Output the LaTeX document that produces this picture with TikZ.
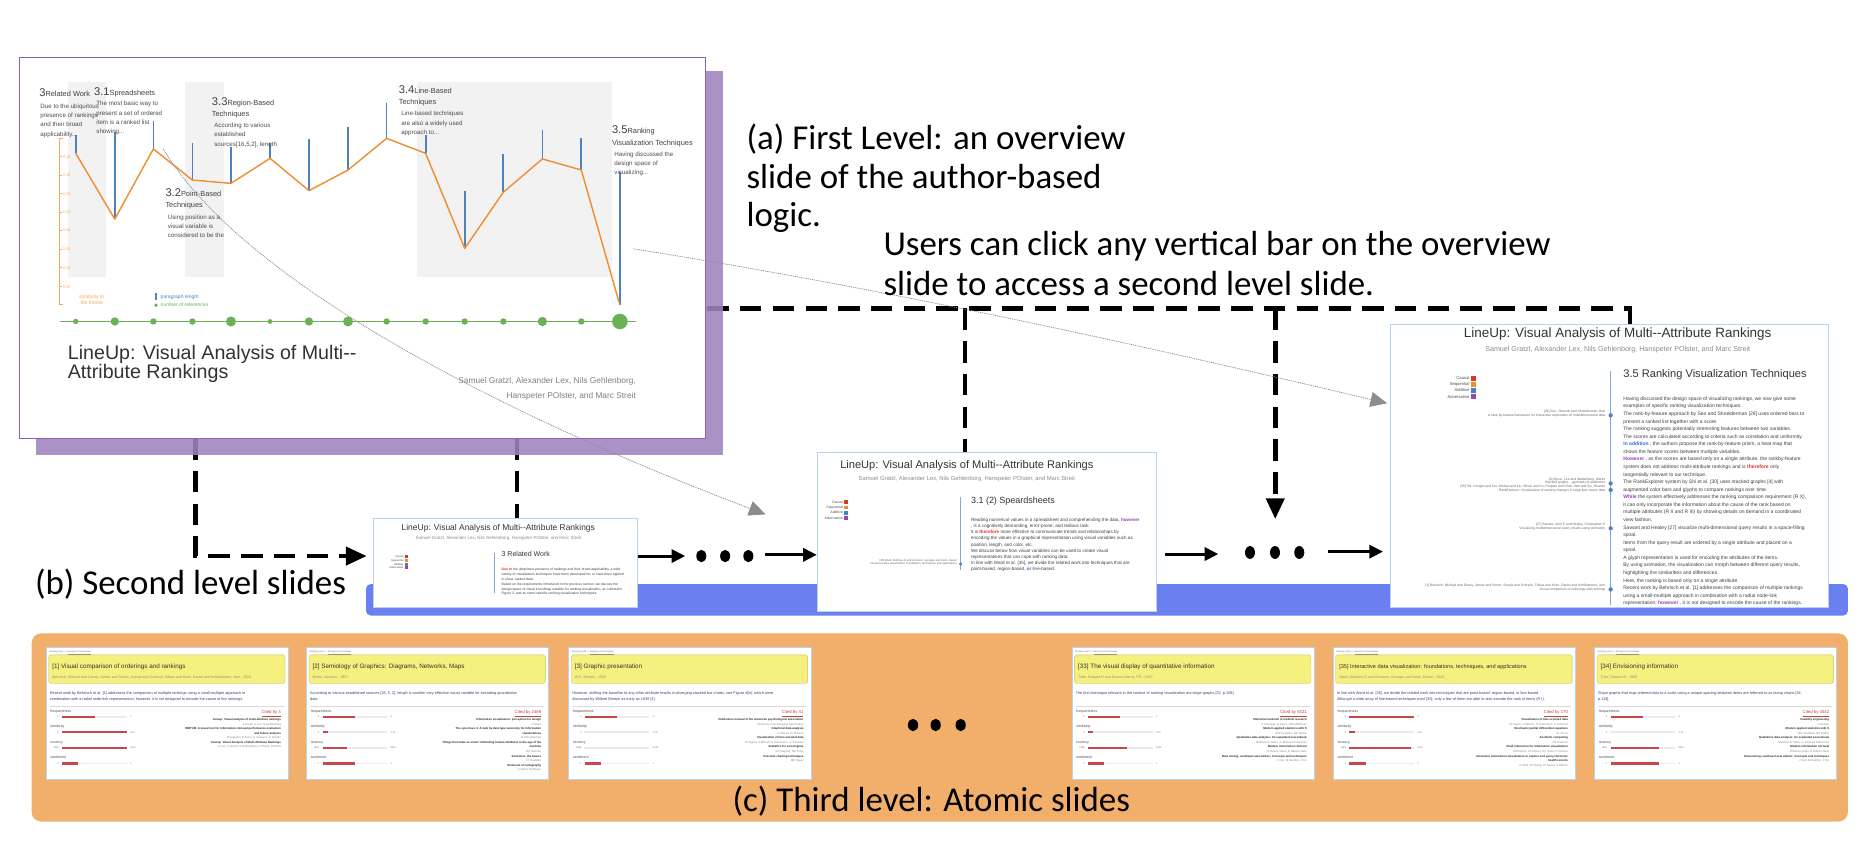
\documentclass[tikz,border=0pt]{standalone}
\usepackage{fontspec}
\setmainfont{Carlito}
\newfontfamily\hv{Liberation Sans}
\usetikzlibrary{arrows.meta}
\definecolor{pshadow}{HTML}{9F83BF}
\definecolor{pborder}{HTML}{8A63B8}
\definecolor{gband}{HTML}{F2F2F2}
\definecolor{axo}{HTML}{F5A95A}
\definecolor{lino}{HTML}{EF8E33}
\definecolor{barb}{HTML}{4F81BD}
\definecolor{grn}{HTML}{6BB155}
\definecolor{bband}{HTML}{6A7FF0}
\definecolor{oband}{HTML}{F1AF6B}
\definecolor{sborder}{HTML}{B7D3EE}
\definecolor{ylw}{HTML}{F6F07E}
\definecolor{cRed}{HTML}{D9372B}
\definecolor{cOra}{HTML}{F08C28}
\definecolor{cBlu}{HTML}{4A7EC4}
\definecolor{cPur}{HTML}{8E4AB0}
\definecolor{kwred}{HTML}{E0302A}
\definecolor{kwpur}{HTML}{9B3FB5}
\definecolor{kwblu}{HTML}{2F6FD0}
\definecolor{bodyblue}{HTML}{3A3F78}
\definecolor{citered}{HTML}{B5473F}
\definecolor{barred}{HTML}{C9464A}
\definecolor{linkgray}{HTML}{8C8C8C}
\tikzset{
  txt/.style={anchor=base west, inner sep=0pt, outer sep=0pt},
  txr/.style={anchor=base east, inner sep=0pt, outer sep=0pt},
  txc/.style={anchor=base, inner sep=0pt, outer sep=0pt},
  fs/.style={font=\hv\fontsize{#1}{#1}\selectfont},
  ann/.style={txt, font=\fontsize{29.3}{34}\selectfont},
  dashconn/.style={line width=3.8pt, dash pattern=on 18pt off 9.5pt, black},
  bigtip/.style={-{Triangle[length=17.5pt,width=15pt]}},
  solidarrow/.style={line width=2.5pt, -{Triangle[length=11.5pt,width=11pt]}},
  bar/.style={barb, line width=1.4pt},
  dotcurve/.style={linkgray, line width=0.6pt, dash pattern=on 0.9pt off 0.7pt, -{Triangle[length=14pt,width=12.5pt]}},
  slide2/.style={draw=sborder, line width=0.8pt, fill=white, anchor=north west, inner sep=0pt},
}
\newcommand\ddd{.\kern0pt.\kern0pt.}
\newcommand\tlines[6]{\foreach \tline [count=\i from 0] in {#6} {\node[#5] (#1-\i) at (#2,{#3+\i*#4}) {\tline};}}
\newcommand\sechead[2]{{\fontsize{9.4}{9.4}\selectfont #1}{\fontsize{6.2}{6.2}\selectfont #2}}
\newcommand\refT{\bfseries\color{black!85}}
\newcommand\refA{\color{black!45}}
\newcommand\kw[2]{\textcolor{#1}{\textbf{#2}}}
\newcommand\legendbox[6]{\foreach \lab/\col [count=\j from 0] in {Causal/cRed,Sequential/cOra,Additive/cBlu,Adversative/cPur} {%
  \fill[\col] ({#2-#5},{#3+\j*#4-#5/2}) rectangle (#2,{#3+\j*#4+#5/2});
  \node[anchor=east, inner sep=0pt, fs=#6, text=black!70] (#1-\j) at ({#2-#5-0.8},{#3+\j*#4}) {\lab};}}
\newcommand\atombars[5]{\foreach \lab/\f/\lo/\hi [count=\k from 0] in {frequentness/#2/0/2,similarity/#3/0/0.19,recency/#4/1995/2015,sentiment/#5/-1/1} {%
  \node[txt, fs=3, text=black!70] (#1-l\k) at (4,{54.5+\k*13.1}) {\lab};
  \node[txr, fs=2, text=black!55] (#1-lo\k) at (11,{59.2+\k*13.1}) {\lo};
  \node[txt, fs=2, text=black!55] (#1-hi\k) at (71,{59.2+\k*13.1}) {\hi};
  \fill[black!8] (14,{57.6+\k*13.1}) rectangle (68,{59+\k*13.1});
  \fill[barred] (14,{57.4+\k*13.1}) rectangle ({14+54*\f},{59.2+\k*13.1});}}
\newcommand\atomic[8]{\begin{scope}[shift={(#1,543.6)}]
  \node[slide2, minimum width=203.5pt, minimum height=110.9pt] (#2) at (0,0) {};
  \node[txt, fs=1.9, text=black!55] (#2-bc) at (3,4.3) {Existing works >{}> \underline{Background knowledge}};
  \filldraw[fill=ylw, draw=ylw!80!black, line width=0.3pt, rounded corners=1.5pt] (2.5,6.4) rectangle (201,30.4);
  \node[txt, fs=5.3, text=black!80] (#2-t) at (5.5,17.8) {#3};
  \node[txt, fs=3, text=black!45] (#2-a) at (5.5,26.6) {#4};
  \tlines{#2-b}{3.5}{39.8}{5}{txt, fs=3.2, text=bodyblue}{#5}
  \draw[black!15, line width=1pt] (3.5,50) -- (200,50);
  \atombars{#2}#7
  \node[txr, fs=3.6, text=citered] (#2-c) at (197.5,55.4) {\underline{Cited by #6}};
  \tlines{#2-r}{197.5}{61.5}{3.85}{txr, fs=2.4}{#8}
\end{scope}}
\begin{document}
\begin{tikzpicture}[x=1pt,y=-1pt]
\useasboundingbox (0,0) rectangle (1568,708);
\fill[white] (0,0) rectangle (1568,708);
% bands
\fill[oband, rounded corners=8pt] (26.6,532) rectangle (1552,690);
\fill[bband, rounded corners=4pt] (307.4,490.5) rectangle (1552,517);

% ---------- second level slides ----------
\node[slide2, minimum width=221.7pt, minimum height=74.7pt] (S2a) at (313,435.3) {};
\node[txc, fs=7.1, text=black!80] (S2a-t) at (418.5,445.9) {LineUp: Visual Analysis of Multi-{}-Attribute Rankings};
\node[txc, fs=3.75, text=black!45] (S2a-au) at (418.5,453.5) {Samuel Gratzl, Alexander Lex, Nils Gehlenborg, Hanspeter POlster, and Marc Streit};
\legendbox{S2a-lg}{342.4}{467.5}{3.15}{2.6}{2.2}
\draw[barb!70, line width=0.8pt] (414.9,464.2) -- (414.9,498.3);
\node[txt, fs=5.9, text=black!80] (S2a-h) at (421.3,467.6) {3 Related Work};
\tlines{S2a-b}{421.3}{479.2}{4.1}{txt, fs=2.85, text=black!75}{{\kw{kwred}{Due to} the ubiquitous presence of rankings and their broad applicability, a wide},{variety of visualization techniques have been developed for, or have been applied},{to show, ranked data.},{Based on the requirements introduced in the previous section, we discuss the},{design space of visual encodings suitable for ranking visualization, as outlined in},{Figure 2, and as some specific ranking visualization techniques.}}

\node[slide2, minimum width=285pt, minimum height=133pt] (S2b) at (686,380) {};
\node[txc, fs=9.3, text=black!80] (S2b-t) at (812,393.5) {LineUp: Visual Analysis of Multi-{}-Attribute Rankings};
\node[txc, fs=4.9, text=black!45] (S2b-au) at (812,403.7) {Samuel Gratzl, Alexander Lex, Nils Gehlenborg, Hanspeter POlster, and Marc Streit};
\legendbox{S2b-lg}{712}{421.9}{4.37}{3.2}{2.9}
\draw[barb!70, line width=0.9pt] (806.8,417.7) -- (806.8,478.7);
\fill[barb] (806.8,473.7) circle[radius=1.5pt];
\tlines{S2b-r}{803.5}{471.4}{2.5}{txr, fs=2.3, text=black!60}{{[35] Ward, Matthew O and Grinstein, Georges and Keim, Daniel},{Interactive data visualization: foundations, techniques, and applications}}
\node[txt, fs=7.55, text=black!80] (S2b-h) at (815.5,422.7) {3.1 (2) Speardsheets};
\tlines{S2b-b}{815.5}{437.9}{5.17}{txt, fs=3.85, text=black!75}{{Reading numerical values in a spreadsheet and comprehending the data, \kw{kwpur}{however}},{, is a cognitively demanding, error-prone, and tedious task.},{It is \kw{kwred}{therefore} more effective to communicate trends and relationships by},{encoding the values in a graphical representation using visual variables such as},{position, length, and color, etc.},{We discuss below how visual variables can be used to create visual},{representations that can cope with ranking data.},{In line with Ward et al. [35], we divide the related work into techniques that are},{point-based, region-based, \kw{kwblu}{or} line-based.}}

\node[slide2, minimum width=367.6pt, minimum height=237.1pt] (S2c) at (1167.4,272.4) {};
\node[txc, fs=11.3, text=black!80] (S2c-t) at (1358.6,283.2) {LineUp: Visual Analysis of Multi-{}-Attribute Rankings};
\node[txc, fs=6, text=black!45] (S2c-au) at (1358.6,295.5) {Samuel Gratzl, Alexander Lex, Nils Gehlenborg, Hanspeter POlster, and Marc Streit};
\legendbox{S2c-lg}{1239.3}{317.5}{5.23}{4.2}{3.5}
\draw[barb!70, line width=1pt] (1352.7,312) -- (1352.7,508);
\foreach \y in {348.8,406,411.5,443.7,495} {\fill[barb] (1352.7,\y) circle[radius=1.8pt];}
\tlines{S2c-r1}{1348.2}{346.4}{3}{txr, fs=2.8, text=black!60}{{[29] Seo, Jinwook and Shneiderman, Ben},{A rank-by-feature framework for interactive exploration of multidimensional data}}
\tlines{S2c-r2}{1348.2}{403.4}{3}{txr, fs=2.8, text=black!60}{{[4] Byron, Lee and Wattenberg, Martin},{Stacked graphs -- geometry \& aesthetics}}
\tlines{S2c-r3}{1348.2}{409.4}{3}{txr, fs=2.8, text=black!60}{{[30] Shi, Conglei and Cui, Weiwei and Liu, Shixia and Xu, Panpan and Chen, Wei and Qu, Huamin},{RankExplorer: Visualization of ranking changes in large time series data}}
\tlines{S2c-r4}{1348.2}{441.6}{3}{txr, fs=2.8, text=black!60}{{[27] Sawant, Amit P and Healey, Christopher G},{Visualizing multidimensional query results using animation}}
\tlines{S2c-r5}{1348.2}{492.8}{3}{txr, fs=2.8, text=black!60}{{[1] Behrisch, Michael and Davey, James and Simon, Svenja and Schreck, Tobias and Keim, Daniel and Kohlhammer, Jorn},{Visual comparison of orderings and rankings}}
\node[txt, fs=9.3, text=black!80] (S2c-h) at (1363.4,317.4) {3.5 Ranking Visualization Techniques};
\tlines{S2c-b}{1363.4}{336.2}{6.36}{txt, fs=4.2, text=black!75}{{Having discussed the design space of visualizing rankings, we now give some},{examples of specific ranking visualization techniques.},{The rank-by-feature approach by Seo and Shneiderman [29] uses ordered bars to},{present a ranked list together with a score.},{The ranking suggests potentially interesting features between two variables.},{The scores are calculated according to criteria such as correlation and uniformity.},{\kw{kwblu}{In addition} , the authors propose the rank-by-feature prism, a heat map that},{shows the feature scores between multiple variables.},{\kw{kwpur}{However} , as the scores are based only on a single attribute, the rankby-feature},{system does not address multi-attribute rankings and is \kw{kwred}{therefore} only},{tangentially relevant to our technique.},{The RankExplorer system by Shi et al. [30] uses stacked graphs [4] with},{augmented color bars and glyphs to compare rankings over time.},{\kw{kwpur}{While} the system effectively addresses the ranking comparison requirement (R X),},{it can only incorporate the information about the cause of the rank based on},{multiple attributes (R II and R III) by showing details on demand in a coordinated},{view fashion.},{Sawant and Healey [27] visualize multi-dimensional query results in a space-filling},{spiral.},{Items from the query result are ordered by a single attribute and placed on a},{spiral.},{A glyph representation is used for encoding the attributes of the items.},{By using animation, the visualization can morph between different query results,},{highlighting the similarities and differences.},{Here, the ranking is based only on a single attribute.},{Recent work by Behrisch et al. [1] addresses the comparison of multiple rankings},{using a small-multiple approach in combination with a radial node-link},{representation; \kw{kwpur}{however} , it is not designed to encode the cause of the rankings.}}

% ---------- dashed connectors ----------
\coordinate (dA0) at (164,368);
\coordinate (dA1) at (164,467);
\coordinate (dAe) at (308,467);
\draw[dashconn, bigtip] (dA0) -- (dA1) -- (dAe);
\coordinate (dB0) at (434,368);
\draw[dashconn] (dB0) -- (dB0 |- S2a.north);
\coordinate (dC0) at (594,259);
\coordinate (dC1) at (1369,259);
\draw[dashconn] (dC0) -- (dC1) -- (dC1 |- S2c.north);
\coordinate (dD0) at (810.5,259);
\draw[dashconn] (dD0) -- (dD0 |- S2b.north);
\coordinate (dE0) at (1071,259);
\coordinate (dEe) at (1071,436);
\draw[dashconn, bigtip] (dE0) -- (dEe);

% ---------- first level slide ----------
\fill[pshadow, fill opacity=0.88] (30,60) rectangle (607,382);
\node[draw=pborder, line width=0.9pt, fill=white, anchor=north west, minimum width=576pt, minimum height=320pt, inner sep=0pt] (L1) at (16,48) {};
\fill[gband] (57,69) rectangle (89,233);
\fill[gband] (155,69) rectangle (188,233);
\fill[gband] (350,69) rectangle (514,233);
\draw[axo, line width=0.6pt] (53,116) -- (50,116) -- (50,256) -- (53,256);
\foreach \v/\y [count=\i] in {0.16/131.6,0.18/147,0.20/162.7,0.22/178,0.24/193.7,0.26/209,0.28/224.8,0.30/240.8} {%
  \draw[axo, line width=0.4pt] (50,\y) -- (52,\y);
  \node[anchor=west, inner sep=0pt, fs=3.3, text=axo] (tk\i) at (52.6,\y) {\v};}
\draw[grn, line width=1.3pt] (50,270) -- (534,270);
\foreach \x/\t/\o/\r in {63.6/113.4/128.8/2.3,96.4/110.6/184/3.5,128.8/101.6/125.1/2.7,161.6/119.8/151.2/2.7,194/123.7/154/4.2,226.8/120.4/133/2,259.5/117/160.1/3.5,292.3/107/142.8/4.2,324.7/86.2/116.2/2.7,357.5/113.4/128.8/2.7,390.3/160.4/208.6/2.7,422.7/129.6/161.5/2.7,455.5/109.2/133.5/3.9,488.2/115.9/142.8/2.7,520.6/144.2/256.2/6.5} {%
  \draw[bar] (\x,\t) -- (\x,\o);
  \fill[grn] (\x,270) circle[radius=\r pt];}
\draw[lino, line width=1.2pt, line join=round] plot coordinates {(63.6,128.8) (96.4,184) (128.8,125.1) (161.6,151.2) (194,154) (226.8,133) (259.5,160.1) (292.3,142.8) (324.7,116.2) (357.5,128.8) (390.3,208.6) (422.7,161.5) (455.5,133.5) (488.2,142.8) (520.6,256.2)};
% legend of chart
\tlines{lgs}{77}{250.5}{5}{txc, fs=4.2, text=axo}{{similarity to},{the theme}}
\draw[barb, line width=1.3pt] (131,246) -- (131,252);
\node[txt, fs=4.2, text=barb] (lgp) at (135,250.6) {paragraph length};
\fill[grn] (131,256.4) circle[radius=1.6pt];
\node[txt, fs=4.2, text=grn] (lgn) at (135,257.8) {number of references};
% section labels
\node[txt, font=\hv, text=black!75] (h3) at (33,81) {\sechead{3}{Related Work}};
\tlines{b3}{34}{91}{7.8}{txt, fs=5.2, text=black!70}{{Due to the ubiquitous},{presence of rankings},{and their broad},{applicability\ddd}}
\node[txt, font=\hv, text=black!75] (h31) at (79,79.8) {\sechead{3.1}{Spreadsheets}};
\tlines{b31}{81}{89}{7.8}{txt, fs=5.2, text=black!70}{{The most basic way to},{present a set of ordered},{item is a ranked list},{showing\ddd}}
\node[txt, font=\hv, text=black!75] (h33) at (178,88.5) {\sechead{3.3}{Region-Based}};
\node[txt, fs=6.2, text=black!75] (h33b) at (178,97.6) {Techniques};
\tlines{b33}{180}{107.3}{7.7}{txt, fs=5.2, text=black!70}{{According to various},{established},{sources[16,5,2], length}}
\node[txt, font=\hv, text=black!75] (h32) at (139,165.2) {\sechead{3.2}{Point-Based}};
\node[txt, fs=6.2, text=black!75] (h32b) at (139,174.4) {Techniques};
\tlines{b32}{141}{184}{7.7}{txt, fs=5.2, text=black!70}{{Using position as a},{visual variable is},{considered to be the}}
\node[txt, font=\hv, text=black!75] (h34) at (335,78.4) {\sechead{3.4}{Line-Based}};
\node[txt, fs=6.2, text=black!75] (h34b) at (335,87.8) {Techniques};
\tlines{b34}{337}{97.2}{7.8}{txt, fs=5.2, text=black!70}{{Line-based techniques},{are also a widely used},{approach to\ddd}}
\node[txt, font=\hv, text=black!75] (h35) at (514,112.5) {\sechead{3.5}{Ranking}};
\node[txt, fs=6.2, text=black!75] (h35b) at (514,122.2) {Visualization Techniques};
\tlines{b35}{516}{131.5}{7.7}{txt, fs=5.2, text=black!70}{{Having discussed the},{design space of},{visualizing\ddd}}
% title and authors
\tlines{L1t}{57}{301.8}{16}{txt, fs=16.5, text=black!80}{{LineUp: Visual Analysis of Multi-{}-},{Attribute Rankings}}
\tlines{L1a}{534}{322.5}{12.1}{txr, fs=7, text=black!50}{{Samuel Gratzl, Alexander Lex, Nils Gehlenborg,},{Hanspeter POlster, and Marc Streit}}

% ---------- third level slides ----------
\atomic{38.4}{A1}{[1] Visual comparison of orderings and rankings}{Behrisch, Michael and Davey, James and Simon, Svenja and Schreck, Tobias and Keim, Daniel and Kohlhammer, Jorn - 2013}{{Recent work by Behrisch et al. [1] addresses the comparison of multiple rankings using a small-multiple approach in},{combination with a radial node-link representation; however, it is not designed to encode the cause of the rankings.}}{3}{{0.5}{1}{1}{0.25}}{{\refT Lineup: Visual analysis of multi-attribute rankings},{\refA S Gratzl, A Lex, N Gehlenborg},{\refT WRTUB: A visual tool for information retrieval performance evaluation},{\refT and failure analysis},{\refA M Angelini, N Ferro, G Santucci, G Silvello},{\refT LineUp: Visual Analysis of Multi-Attribute Rankings},{\refA A Lex, S Gratzl, N Gehlenborg, H Pfister, M Streit}}
\atomic{257}{A2}{[2] Semiology of Graphics: Diagrams, Networks, Maps}{Bertin, Jacques - 1967}{{According to various established sources [16, 5, 2], length is another very effective visual variable for encoding quantitative},{data.}}{2489}{{0.5}{0.08}{0.38}{0.5}}{{\refT Information visualization: perception for design},{\refA C Ware},{\refT The eyes have it: A task by data type taxonomy for information},{\refT visualizations},{\refA B Shneiderman},{\refT Things that make us smart: Defending human attributes in the age of the},{\refT machine},{\refA DA Norman},{\refT Semiotics: the basics},{\refA D Chandler},{\refT Elements of cartography},{\refA A Arthur Robinson}}
\atomic{477.3}{A3}{[3] Graphic presentation}{W.C. Brinton - 1939}{{However, shifting the baseline to any other attribute results in diverging stacked bar charts, see Figure 4(b), which were},{discussed by Willard Brinton as early as 1939 [3].}}{41}{{0.5}{0}{0}{0.25}}{{\refT Publication manual of the American psychological association},{\refA American Psychological Association},{\refT Graphical data analysis},{\refA H Wainer, D Thissen},{\refT Visualization of time-oriented data},{\refA W Aigner, S Miksch, H Schumann, C Tominski},{\refT Statistics for sociologists},{\refA MJ Hagood, DO Price},{\refT Practical charting techniques},{\refA ME Spear}}
\atomic{900}{A4}{[33] The visual display of quantitative information}{Tufte, Edward R and Graves-Morris, PR - 1983}{{The first technique relevant in the context of ranking visualization are slope graphs [33, p.158].}}{8321}{{0.5}{0.08}{0.6}{0.25}}{{\refT Statistical methods in medical research},{\refA P Armitage, G Berry, JNS Matthews},{\refT Modern applied statistics with S},{\refA WN Venables, BD Ripley},{\refT Qualitative data analysis: An expanded sourcebook},{\refA Matthew B. Miles, A. Michael Huberman},{\refT Modern information retrieval},{\refA R Baeza-Yates, B Ribeiro-Neto},{\refT Data mining, southeast asia edition: Concepts and techniques},{\refA J Han, M Kamber, J Pei}}
\atomic{1119.3}{A5}{{\fontsize{4.7}{4.7}\selectfont [35] Interactive data visualization: foundations, techniques, and applications}}{Ward, Matthew O and Grinstein, Georges and Keim, Daniel - 2010}{{In line with Ward et al. [35], we divide the related work into techniques that are point-based, region-based, or line-based.},{Although a wide array of line-based techniques exist [35], only a few of them are able to also encode the rank of items (R I).}}{170}{{1}{0.08}{0.95}{0.25}}{{\refT Visualization of time-oriented data},{\refA W Aigner, S Miksch, H Schumann, C Tominski},{\refT Stochastic partial differential equations},{\refA PL Chow},{\refT Aesthetic computing},{\refA PA Fishwick},{\refT Fluid interaction for information visualization},{\refA N Elmqvist, AV Moere, HC Jetter, D Cernea},{\refT Interactive information visualization to explore and query electronic},{\refT health records},{\refA A Rind, TD Wang, W Aigner, S Miksch}}
\atomic{1338.7}{A6}{[34] Envisioning information}{Tufte, Edward R - 1990}{{Slope graphs that map ordered data to a scale using a unique spacing between items are referred to as bump charts [34,},{p.118].}}{4542}{{0.5}{0}{0.75}{0.75}}{{\refT Usability engineering},{\refA J Nielsen},{\refT Modern applied statistics with S},{\refA WN Venables, BD Ripley},{\refT Qualitative data analysis: An expanded sourcebook},{\refA Matthew B. Miles, A. Michael Huberman},{\refT Modern information retrieval},{\refA R Baeza-Yates, B Ribeiro-Neto},{\refT Data mining, southeast asia edition: Concepts and techniques},{\refA J Han, M Kamber, J Pei}}

% ---------- solid arrows and ellipses ----------
\coordinate (a1s) at (535.5,467);
\coordinate (a1e) at (575.5,467);
\draw[solidarrow] (a1s) -- (a1e);
\foreach \x in {589,609,628.5} {\fill (\x,467) ellipse[x radius=4.2pt, y radius=5.2pt];}
\coordinate (a2s) at (642.5,466);
\draw[solidarrow] (a2s) -- (a2s -| S2b.west);
\coordinate (a3s) at (978.4,465.3);
\coordinate (a3e) at (1023.2,465.3);
\draw[solidarrow] (a3s) -- (a3e);
\foreach \x in {1049.8,1070.8,1091.2} {\fill (\x,464) ellipse[x radius=4.2pt, y radius=5.4pt];}
\coordinate (a4s) at (1115.6,463.3);
\coordinate (a4e) at (1161.5,463.3);
\draw[solidarrow] (a4s) -- (a4e);
\foreach \x in {766.8,785.8,806.8} {\fill (\x,608.9) ellipse[x radius=4.3pt, y radius=5.2pt];}

% ---------- gray dotted links ----------
\coordinate (g1s) at (137,125);
\coordinate (g1e) at (643,432);
\draw[dotcurve] (g1s) .. controls (200,230) and (400,340) .. (g1e);
\coordinate (g2s) at (532,209);
\coordinate (g2e) at (1165,338.7);
\draw[dotcurve] (g2s) .. controls (760,245) and (980,295) .. (g2e);

% ---------- annotations ----------
\tlines{annA}{627}{125.5}{32.5}{ann}{{(a) First Level: an overview},{slide of the author-based},{logic.}}
\tlines{annU}{742}{215}{33.5}{ann}{{Users can click any vertical bar on the overview},{slide to access a second level slide.}}
\node[ann] (annB) at (29.4,499) {(b) Second level slides};
\node[ann] (annC) at (615.3,681.7) {(c) Third level: Atomic slides};
\end{tikzpicture}
\end{document}
